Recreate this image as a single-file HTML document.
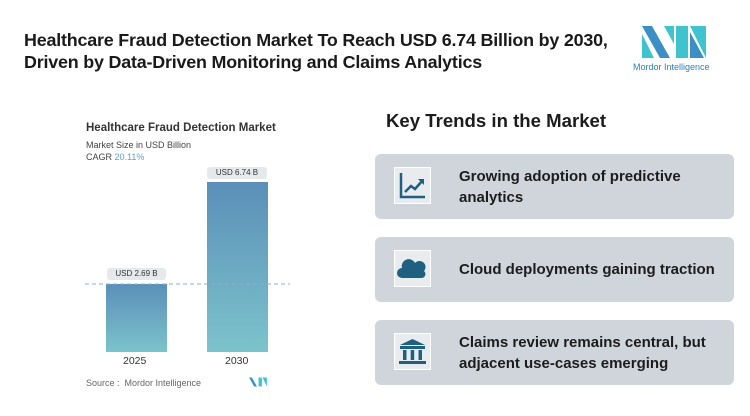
<!DOCTYPE html>
<html><head><style>
body{margin:0;width:750px;height:416px;background:#fff;font-family:"Liberation Sans",sans-serif;position:relative;overflow:hidden}
.a{position:absolute}
.h1{left:24px;top:29px;font-size:17.9px;font-weight:bold;color:#1a1a1a;line-height:22px;letter-spacing:-0.2px}
.card{position:absolute;left:375px;width:359px;height:65px;background:#d0d5dc;border-radius:6px}
.ib{position:absolute;left:19px;top:13px;width:37px;height:37px;background:#e9ecef;border:1px solid #fff;box-sizing:border-box}
.ct{position:absolute;left:84px;font-size:15px;font-weight:bold;color:#1c1c1c;line-height:21px}
.pill{position:absolute;background:#e5e9ec;border-radius:3px;font-size:8px;color:#333;text-align:center;line-height:12px}
</style></head><body>
<div class="a h1">Healthcare Fraud Detection Market To Reach USD 6.74 Billion by 2030,<br>Driven by Data-Driven Monitoring and Claims Analytics</div>
<svg class="a" style="left:640px;top:24px" width="68" height="36" viewBox="0 0 68 36">
<polygon points="2,2 12,2 30,34 20,34" fill="#3b8fc4"/><polygon points="2,10 2,34 14,34" fill="#3fc3cf"/>
<polygon points="24,2 34,2 34,20" fill="#3fc3cf"/><polygon points="36,2 48,2 48,34 36,34 36,22" fill="#3fc3cf"/>
<polygon points="50,2 66,2 66,34" fill="#3fc3cf"/><polygon points="50,8 64,34 50,34" fill="#3b8fc4"/>
</svg>
<div class="a" style="left:633px;top:62px;font-size:9px;color:#2f7fb8">Mordor Intelligence</div>

<div class="a" style="left:86px;top:122px;font-size:11.5px;font-weight:bold;color:#333">Healthcare Fraud Detection Market</div>
<div class="a" style="left:86px;top:140px;font-size:9px;color:#444">Market Size in USD Billion</div>
<div class="a" style="left:86px;top:152px;font-size:9px;color:#444">CAGR <span style="color:#5fa3c6">20.11%</span></div>
<svg class="a" style="left:0;top:0" width="750" height="416">
<defs><linearGradient id="g" x1="0" y1="0" x2="0" y2="1"><stop offset="0" stop-color="#5b8fb8"/><stop offset="1" stop-color="#7cc3cc"/></linearGradient></defs>
<rect x="106" y="284" width="61" height="68" fill="url(#g)"/>
<rect x="207" y="182" width="61" height="170" fill="url(#g)"/>
<line x1="85" y1="284" x2="290" y2="284" stroke="#8fb0c8" stroke-width="1" stroke-dasharray="4,3"/>
</svg>
<div class="pill" style="left:107px;top:268px;width:59px">USD 2.69 B</div>
<div class="pill" style="left:207px;top:167px;width:60px">USD 6.74 B</div>
<div class="a" style="left:123px;top:355px;font-size:10.5px;color:#333">2025</div>
<div class="a" style="left:225px;top:355px;font-size:10.5px;color:#333">2030</div>
<div class="a" style="left:86px;top:378px;font-size:9px;color:#666">Source : &nbsp;Mordor Intelligence</div>
<svg class="a" style="left:248px;top:377px" width="20" height="10" viewBox="0 0 68 36"><polygon points="2,2 12,2 30,34 20,34" fill="#3b8fc4"/><polygon points="36,2 48,2 48,34 36,34" fill="#3fc3cf"/><polygon points="50,2 66,2 66,34" fill="#3fc3cf"/></svg>

<div class="a" style="left:386px;top:110px;font-size:18.6px;font-weight:bold;color:#1c1c1c">Key Trends in the Market</div>

<div class="card" style="top:154px"><div class="ib"><svg width="35" height="35" viewBox="0 0 35 35"><path d="M6 5V29H30" stroke="#1f5f80" stroke-width="2.5" fill="none"/><path d="M10 24L16 18L20 21L28 12" stroke="#1f5f80" stroke-width="2.5" fill="none"/><path d="M23 11H29V17Z" fill="#1f5f80"/></svg></div>
<div class="ct" style="top:12px">Growing adoption of predictive<br>analytics</div></div>

<div class="card" style="top:237px"><div class="ib"><svg width="35" height="35" viewBox="0 0 35 35"><path d="M7 27a5 5 0 0 1 0-10a7 7 0 0 1 13-5a6 6 0 0 1 9 8a4 4 0 0 1-2 7z" fill="#1f5f80"/></svg></div>
<div class="ct" style="top:22px">Cloud deployments gaining traction</div></div>

<div class="card" style="top:320px"><div class="ib"><svg width="35" height="35" viewBox="0 0 35 35"><path d="M17.5 5L30 11H5Z" fill="#1f5f80"/><rect x="5" y="12" width="25" height="3" fill="#1f5f80"/><rect x="8" y="16" width="3.5" height="10" fill="#1f5f80"/><rect x="15.7" y="16" width="3.5" height="10" fill="#1f5f80"/><rect x="23.5" y="16" width="3.5" height="10" fill="#1f5f80"/><rect x="4" y="27" width="27" height="3" fill="#1f5f80"/></svg></div>
<div class="ct" style="top:12px">Claims review remains central, but<br>adjacent use-cases emerging</div></div>
</body></html>
